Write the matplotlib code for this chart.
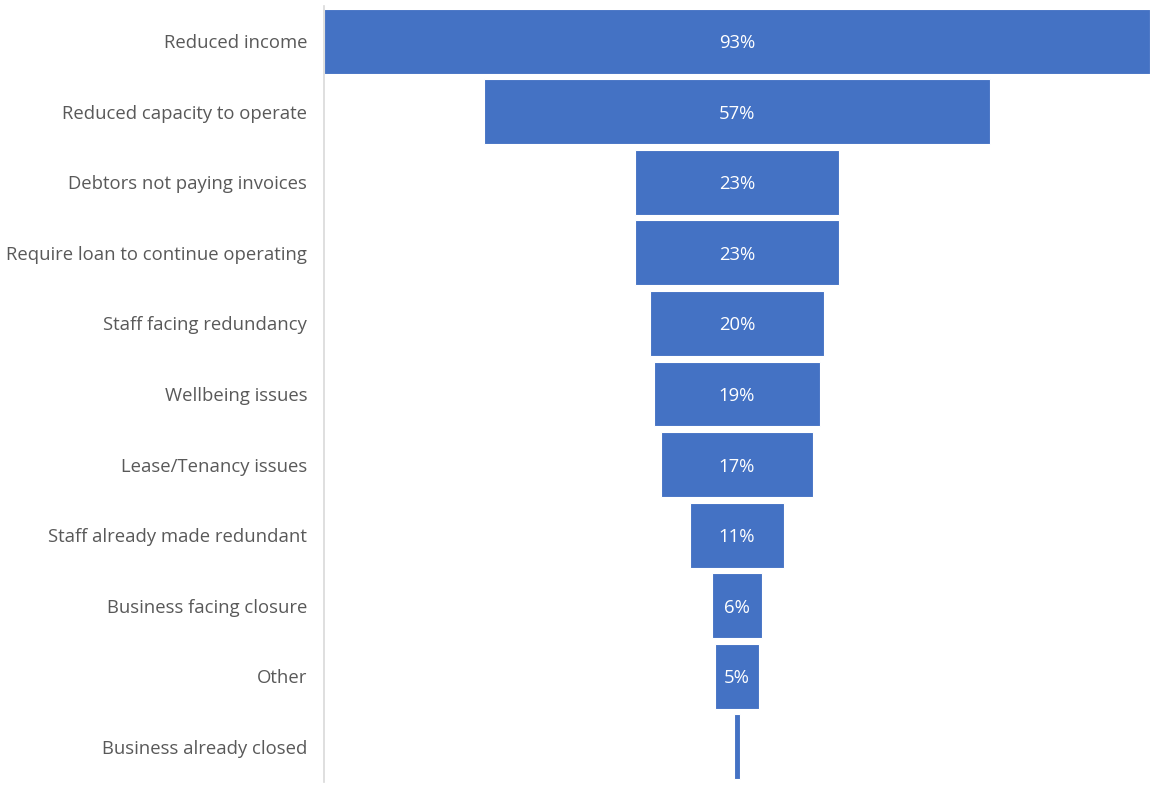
import matplotlib.pyplot as plt

categories = ['Reduced income', 'Reduced capacity to operate', 'Debtors not paying invoices',
              'Require loan to continue operating', 'Staff facing redundancy', 'Wellbeing issues',
              'Lease/Tenancy issues', 'Staff already made redundant', 'Business facing closure',
              'Other', 'Business already closed']
values = [93, 57, 23, 23, 19.7, 18.8, 17.2, 10.6, 5.7, 4.9, 0.7]

plt.rcParams['font.family'] = ['Open Sans', 'DejaVu Sans']

fig = plt.figure(figsize=(11.5, 7.91), dpi=100)
ax = fig.add_axes([324/1150, 9/791, 826/1150, 776/791])

ypos = list(range(len(categories)))
lefts = [-v/2 for v in values]
bars = ax.barh(ypos, values, left=lefts, height=0.92, color='#4472C4',
               edgecolor='white', linewidth=0.8)

for y, v in zip(ypos, values):
    if v >= 2:
        ax.text(0, y, f'{v:.0f}%', ha='center', va='center_baseline', color='white', fontsize=13.3)

ax.set_xlim(-46.5, 46.5)
ax.set_ylim(len(categories) - 0.5, -0.5)
ax.set_yticks(ypos)
ax.set_yticklabels(categories, fontsize=13.3, color='#595959', va='center_baseline')
ax.tick_params(axis='y', length=0, pad=12)
ax.set_xticks([])
for s in ['top', 'right', 'bottom']:
    ax.spines[s].set_visible(False)
ax.spines['left'].set_color('#D9D9D9')
ax.spines['left'].set_linewidth(1.2)

fig.savefig('out.png', dpi=100)
